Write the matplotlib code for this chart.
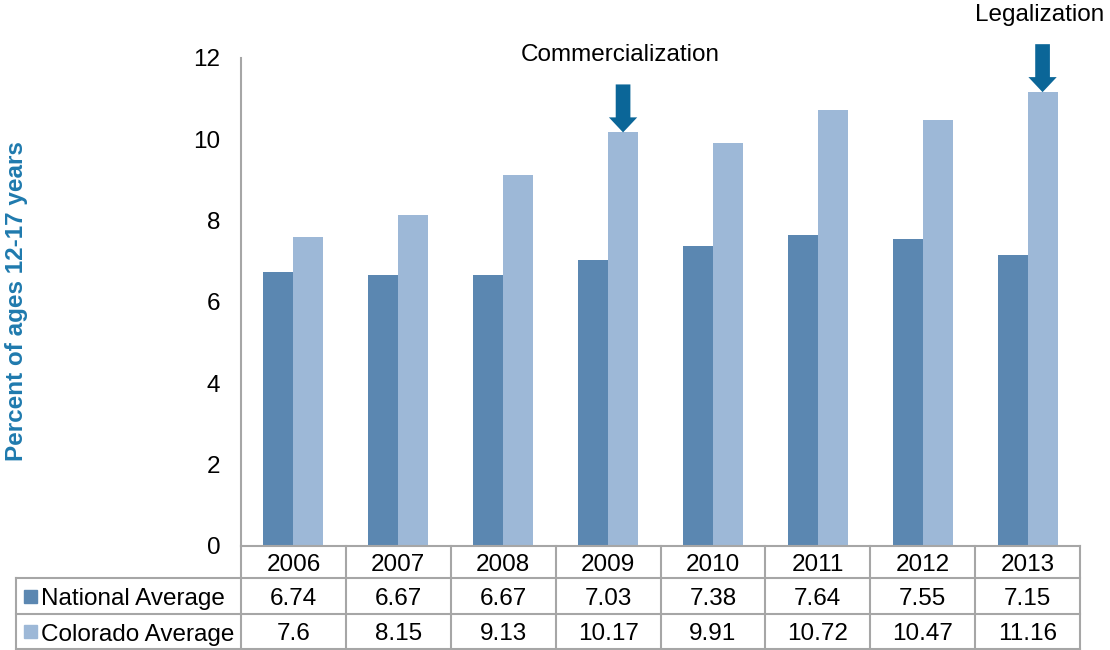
import matplotlib.pyplot as plt
import matplotlib.transforms as mtransforms
import numpy as np

years = ['2006', '2007', '2008', '2009', '2010', '2011', '2012', '2013']
national = [6.74, 6.67, 6.67, 7.03, 7.38, 7.64, 7.55, 7.15]
colorado = [7.6, 8.15, 9.13, 10.17, 9.91, 10.72, 10.47, 11.16]
national_labels = ['6.74', '6.67', '6.67', '7.03', '7.38', '7.64', '7.55', '7.15']
colorado_labels = ['7.6', '8.15', '9.13', '10.17', '9.91', '10.72', '10.47', '11.16']
series_names = ['National Average', 'Colorado Average']
events = {'2009': 'Commercialization', '2013': 'Legalization'}

NAT_COLOR = '#5B87B1'
COL_COLOR = '#9DB8D7'
ARROW_COLOR = '#0B6698'
GRID_COLOR = '#A6A6A6'
FS = 17.5

plt.rcParams['font.family'] = ['Liberation Sans', 'DejaVu Sans']

fig = plt.figure(figsize=(11.1, 6.5), dpi=100)
ax = fig.add_axes([241 / 1110, 104 / 650, 839 / 1110, 488 / 650])

x = np.arange(len(years))
w = 0.286
ax.bar(x - w / 2, national, w, color=NAT_COLOR, zorder=2)
ax.bar(x + w / 2, colorado, w, color=COL_COLOR, zorder=2)

ax.set_xlim(-0.5, len(years) - 0.5)
ax.set_ylim(0, 12)
ax.set_yticks(range(0, 13, 2))
ax.set_xticks([])
ax.tick_params(axis='y', length=0, pad=15, labelsize=FS)
for s in ['top', 'right']:
    ax.spines[s].set_visible(False)
ax.spines['left'].set_color(GRID_COLOR)
ax.spines['left'].set_linewidth(1.5)
ax.spines['bottom'].set_color(GRID_COLOR)
ax.spines['bottom'].set_linewidth(1.5)

fig.text(17 / 1110, 1 - 301 / 650, 'Percent of ages 12-17 years', rotation=90,
         ha='center', va='center', fontsize=FS, fontweight='bold', color='#1F7AAE')

# event arrows and labels
for yr, label in events.items():
    i = years.index(yr)
    val = colorado[i]
    ax.arrow(i + w / 2, val + 1.18, 0, -1.18, width=0.14, head_width=0.27,
             head_length=0.37, length_includes_head=True, color=ARROW_COLOR,
             lw=0, clip_on=False, zorder=3)
    ax.text(i + w / 2 - 0.03, val + 1.9, label, ha='center', va='center',
            fontsize=FS, clip_on=False)

# data table below the axes
tr = mtransforms.blended_transform_factory(ax.transData, ax.transAxes)
rows_y = [0, -32 / 488, -68 / 488, -103 / 488]
left = -225 / 839
dy = 3 / 488
line_kw = dict(color=GRID_COLOR, lw=1.5, clip_on=False)

for b in np.arange(len(years) + 1) - 0.5:
    ax.plot([b, b], [rows_y[0], rows_y[3]], transform=tr, **line_kw)
for yy in rows_y[1:]:
    ax.plot([left, 1], [yy, yy], transform=ax.transAxes, **line_kw)
ax.plot([left, left], [rows_y[1], rows_y[3]], transform=ax.transAxes, **line_kw)

for i, yr in enumerate(years):
    ax.text(i, (rows_y[0] + rows_y[1]) / 2 - dy, yr, transform=tr, ha='center',
            va='center', fontsize=FS)
    ax.text(i, (rows_y[1] + rows_y[2]) / 2 - dy, national_labels[i], transform=tr,
            ha='center', va='center', fontsize=FS)
    ax.text(i, (rows_y[2] + rows_y[3]) / 2 - dy, colorado_labels[i], transform=tr,
            ha='center', va='center', fontsize=FS)

for k, (name, c) in enumerate(zip(series_names, [NAT_COLOR, COL_COLOR])):
    yc = (rows_y[k + 1] + rows_y[k + 2]) / 2
    ax.add_patch(plt.Rectangle((left + 8 / 839, yc - 6.5 / 488), 13 / 839, 13 / 488,
                               transform=ax.transAxes, color=c, clip_on=False))
    ax.text(left + 25 / 839, yc - dy, name, transform=ax.transAxes, ha='left',
            va='center', fontsize=FS)

fig.savefig('out.png', dpi=100)
